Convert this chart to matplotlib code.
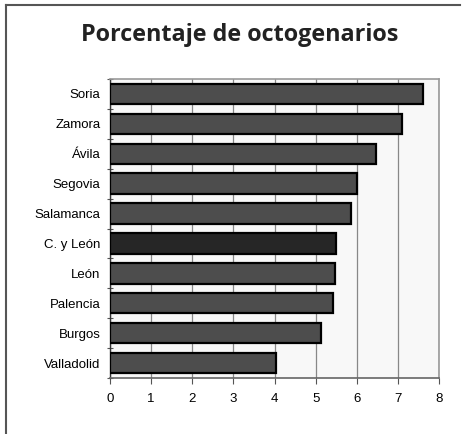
import matplotlib
matplotlib.use("Agg")
import matplotlib.pyplot as plt
from matplotlib.lines import Line2D

categories = ["Soria", "Zamora", "Ávila", "Segovia", "Salamanca", "C. y León",
              "León", "Palencia", "Burgos", "Valladolid"]
values = [7.6, 7.09, 6.48, 6.0, 5.87, 5.5, 5.46, 5.42, 5.14, 4.03]
highlight = "C. y León"
xticks = [0, 1, 2, 3, 4, 5, 6, 7, 8]
title = "Porcentaje de octogenarios"

W, H = 469, 434
fig = plt.figure(figsize=(W / 100, H / 100), dpi=100)
fig.patch.set_facecolor("white")

ax = fig.add_axes([110 / W, 1 - 378 / H, 329 / W, 299 / H])
ax.set_facecolor("#f8f8f8")

n = len(categories)
ypos = list(range(n))[::-1]
colors = ["#262626" if c == highlight else "#4d4d4d" for c in categories]
ax.barh(ypos, values, height=0.68, color=colors, edgecolor="black",
        linewidth=1.6, zorder=3)

ax.set_xlim(0, 8)
ax.set_ylim(-0.5, n - 0.5)
ax.set_xticks(xticks)
ax.set_xticklabels([str(t) for t in xticks], fontsize=9.5, family="Liberation Sans")
ax.set_yticks(ypos)
ax.set_yticklabels(categories, fontsize=9.5, family="Liberation Sans")
ax.tick_params(axis="y", length=0, pad=7)
ax.tick_params(axis="x", length=4, width=0.8, color="#555555", pad=7)
ax.set_yticks([i - 0.5 for i in range(n + 1)], minor=True)
ax.tick_params(axis="y", which="minor", length=4, width=0.8, color="#555555",
               direction="inout")

ax.grid(axis="x", color="#888888", linewidth=0.9, zorder=0)
ax.set_axisbelow(True)
for side in ["top", "right"]:
    ax.spines[side].set_color("#999999")
    ax.spines[side].set_linewidth(1.2)
ax.spines["bottom"].set_color("#666666")
ax.spines["bottom"].set_linewidth(1.2)
ax.spines["left"].set_color("#333333")
ax.spines["left"].set_linewidth(1.0)

fig.text(240 / W, 1 - 35 / H, title, ha="center", va="center",
         fontsize=16.8, fontweight="bold", family="Open Sans", color="#222222")

fig.add_artist(Line2D([5.5 / W, 5.5 / W], [0, 1 - 4.5 / H], color="#555555",
                      linewidth=1.5, transform=fig.transFigure))
fig.add_artist(Line2D([5.5 / W, 460 / W], [1 - 4.5 / H, 1 - 4.5 / H],
                      color="#555555", linewidth=1.5, transform=fig.transFigure))

fig.savefig("out.png", dpi=100)
